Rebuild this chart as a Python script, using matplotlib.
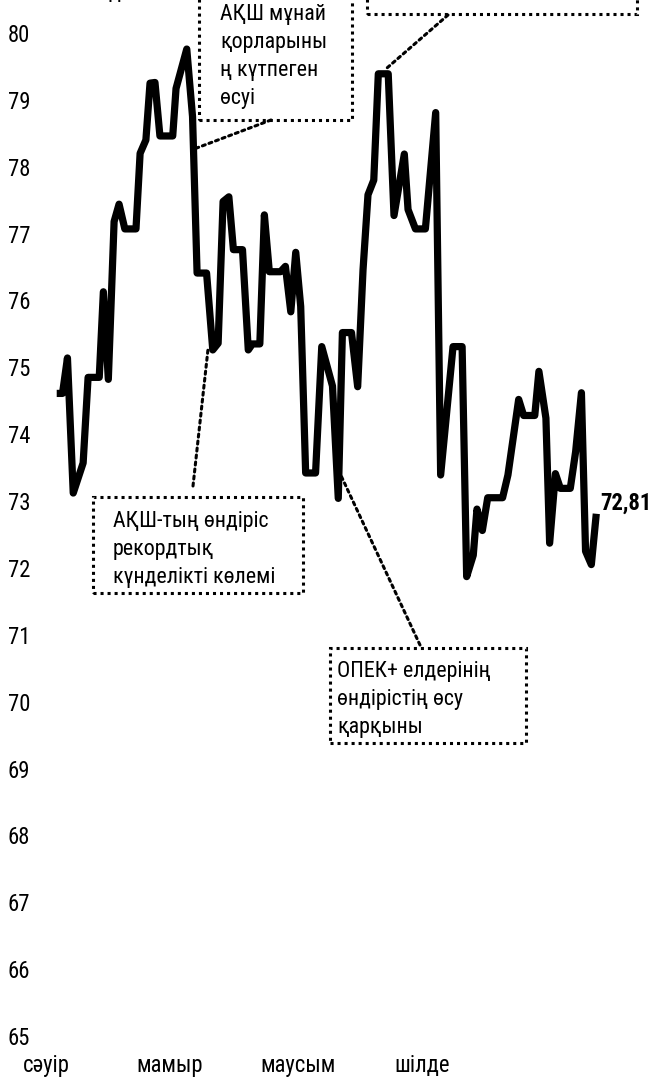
import matplotlib
matplotlib.use('Agg')
import matplotlib.pyplot as plt
from matplotlib import font_manager
from matplotlib.patches import Rectangle

# Brent price, day counted from 1 April
days = [2.6, 4.0, 5.2, 6.6, 9.0, 10.2, 12.9, 13.9, 15.1, 16.5, 17.7, 19.1, 21.8, 22.8,
        24.2, 25.2, 26.4, 27.6, 30.7, 31.5, 34.1, 35.5, 36.6, 38.9, 40.4, 41.7, 42.9,
        44.3, 45.4, 47.6, 49.0, 50.0, 51.8, 52.9, 54.1, 56.8, 58.0, 59.3, 60.5, 61.7,
        62.9, 65.3, 66.8, 69.4, 70.8, 71.8, 74.0, 75.5, 76.8, 78.0, 79.4, 80.5, 82.9,
        84.3, 86.8, 87.7, 89.5, 91.9, 94.4, 95.6, 98.6, 100.8, 101.9, 103.5, 104.4,
        105.7, 107.0, 110.6, 111.9, 114.5, 115.7, 118.4, 119.4, 121.1, 122.0, 123.4,
        124.6, 127.0, 128.3, 129.7, 130.7, 132.1, 133.3]
price = [74.61, 74.61, 75.14, 73.12, 73.57, 74.85, 74.85, 76.13, 74.82, 77.18, 77.44,
         77.07, 77.07, 78.20, 78.40, 79.25, 79.26, 78.46, 78.46, 79.17, 79.76, 78.75,
         76.41, 76.41, 75.26, 75.36, 77.48, 77.55, 76.76, 76.76, 75.26, 75.35, 75.35,
         77.28, 76.43, 76.43, 76.51, 75.83, 76.72, 75.91, 73.42, 73.42, 75.31, 74.72,
         73.04, 75.52, 75.52, 74.71, 76.46, 77.58, 77.80, 79.39, 79.39, 77.27, 78.19,
         77.36, 77.07, 77.07, 78.81, 73.39, 75.31, 75.31, 71.87, 72.19, 72.88, 72.56,
         73.05, 73.05, 73.39, 74.52, 74.28, 74.28, 74.94, 74.24, 72.37, 73.41, 73.19,
         73.19, 73.74, 74.62, 72.25, 72.05, 72.81]

month_pos = [0, 30, 61, 91]
month_names = ['сәуір', 'мамыр', 'маусым', 'шілде']
yticks = list(range(65, 81))

# narrow face for all labels if one is installed
names = {f.name for f in font_manager.fontManager.ttflist}
font, tick_size, note_size = ['Liberation Sans', 'DejaVu Sans'], 15, 14.4
for cand, ts, ns in [('Liberation Sans Narrow', 17, 16.5), ('Arial Narrow', 17, 16.5),
                     ('Roboto Condensed', 16.3, 15.8)]:
    if cand in names:
        font, tick_size, note_size = [cand, 'Liberation Sans', 'DejaVu Sans'], ts, ns
        break

W, H = 655, 1086
fig = plt.figure(figsize=(W / 100, H / 100), dpi=100)
ax = fig.add_axes([40 / W, 1 - 1036 / H, 560 / W, 1003 / H])

ax.plot(days, price, color='black', lw=5.2, solid_joinstyle='round',
        solid_capstyle='butt', clip_on=False)
ax.set_xlim(-1.45, 134.2)
ax.set_ylim(65, 80)

ax.set_yticks(yticks)
ax.set_yticklabels([str(v) for v in yticks], family=font, fontsize=tick_size)
ax.set_xticks(month_pos)
ax.set_xticklabels(month_names, family=font, fontsize=tick_size)
ax.tick_params(length=0)
ax.tick_params(axis='y', pad=7)
ax.tick_params(axis='x', pad=13)
for s in ax.spines.values():
    s.set_visible(False)

ax.annotate('72,81', xy=(days[-1], price[-1]), xytext=(4, 11), textcoords='offset pixels',
            ha='left', va='center', fontsize=tick_size, fontweight='bold', family=font)

# y-axis unit label, cut by the top edge
fig.text(-16 / W, 1 + 2 / H, 'Brent бағасы долл.', ha='left', va='baseline',
         fontsize=tick_size, family=font)


def fx(x):
    return x / W


def fy(y):
    return 1 - y / H


step = 28
boxes = [
    # left, top, right, bottom, text x, first-line centre, lines, connector start, target
    (93, 497, 303, 593, 113, 519, ['АҚШ-тың өндіріс', 'рекордтық', 'күнделікті көлемі'],
     (193, 486), (39.3, 75.30)),
    (330, 648, 526, 743, 337, 669, ['ОПЕК+ елдерінің', 'өндірістің өсу', 'қарқыны'],
     (420, 645), (71.4, 73.39)),
    (199, -20, 352, 120, 220, 12, ['АҚШ мұнай', 'қорларыны', 'ң күтпеген', 'өсуі'],
     (271, 120), (36.5, 78.28)),
    (367, -80, 637, 14, 387, -44, ['Сұраныстың төмендеуі', 'Қытайдағы'],
     (448, 15), (82.1, 79.45)),
]
for l, t, r, b, tx, ty, lines, start, target in boxes:
    fig.add_artist(Rectangle((fx(l), fy(b)), fx(r - l), (b - t) / H, fill=False,
                             ec='black', lw=2.2, ls=(0, (1, 1.3))))
    for i, line in enumerate(lines):
        fig.text(fx(tx), fy(ty + i * step), line, ha='left', va='center_baseline',
                 fontsize=note_size, family=font)
    ax.annotate('', xy=target, xycoords='data', xytext=(start[0], H - start[1]),
                textcoords='figure pixels',
                arrowprops=dict(arrowstyle='-', color='black', lw=2.2,
                                ls=(0, (1, 1.3)), shrinkA=0, shrinkB=0))

fig.savefig('out.png', dpi=100)
